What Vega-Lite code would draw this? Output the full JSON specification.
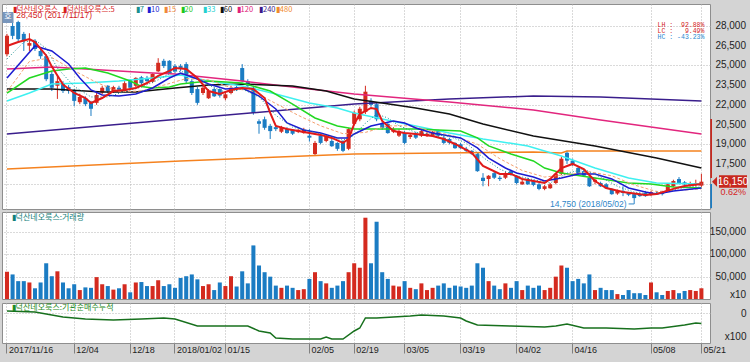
{
  "$schema": "https://vega.github.io/schema/vega-lite/v6.json",
  "background": "#d4d4d4",
  "padding": {"left": 1, "top": 3, "right": 4, "bottom": 12},
  "spacing": 1,
  "config": {
    "view": {"fill": "#ffffff", "stroke": "#8e8e8e", "strokeWidth": 1},
    "axis": {"labelFont": "Liberation Sans", "labelFontSize": 10, "labelColor": "#1e1e1e", "gridColor": "#b4b4b4", "gridDash": [1, 2], "gridWidth": 1},
    "text": {"font": "Liberation Sans"}
  },
  "resolve": {"scale": {"x": "shared"}, "axis": {"x": "independent"}},
  "datasets": {
    "ohlc": [
      {"d":"2017/11/16","o":25850,"h":27400,"l":25700,"c":27250,"v":61000},
      {"d":"2017/11/17","o":28000,"h":28450,"l":27000,"c":27250,"v":55000},
      {"d":"2017/11/20","o":28300,"h":28400,"l":26850,"c":27000,"v":40000},
      {"d":"2017/11/21","o":27400,"h":27550,"l":26100,"c":26850,"v":40000},
      {"d":"2017/11/22","o":26500,"h":27450,"l":26100,"c":26700,"v":37000},
      {"d":"2017/11/23","o":26850,"h":27000,"l":26100,"c":26250,"v":24000},
      {"d":"2017/11/24","o":26100,"h":26250,"l":25500,"c":25700,"v":37000},
      {"d":"2017/11/27","o":25700,"h":25850,"l":23800,"c":23950,"v":80000},
      {"d":"2017/11/28","o":24350,"h":24550,"l":23050,"c":23300,"v":51000},
      {"d":"2017/11/29","o":23450,"h":24200,"l":22450,"c":23800,"v":62000},
      {"d":"2017/11/30","o":23600,"h":23800,"l":22900,"c":23050,"v":37000},
      {"d":"2017/12/01","o":23350,"h":23500,"l":22850,"c":23050,"v":24000},
      {"d":"2017/12/04","o":23050,"h":23200,"l":21900,"c":22300,"v":33000},
      {"d":"2017/12/05","o":22200,"h":22850,"l":22050,"c":22600,"v":20000},
      {"d":"2017/12/06","o":22500,"h":22650,"l":21900,"c":22050,"v":26000},
      {"d":"2017/12/07","o":22150,"h":22300,"l":21150,"c":21700,"v":25000},
      {"d":"2017/12/08","o":22150,"h":22900,"l":22000,"c":22750,"v":49000},
      {"d":"2017/12/11","o":22950,"h":23450,"l":22800,"c":23300,"v":33000},
      {"d":"2017/12/12","o":23450,"h":23500,"l":22900,"c":23050,"v":29000},
      {"d":"2017/12/13","o":23050,"h":23450,"l":22900,"c":23350,"v":21000},
      {"d":"2017/12/14","o":23300,"h":23450,"l":22950,"c":23150,"v":24000},
      {"d":"2017/12/15","o":23050,"h":23800,"l":22950,"c":23650,"v":33000},
      {"d":"2017/12/18","o":23900,"h":23950,"l":23200,"c":23300,"v":15000},
      {"d":"2017/12/19","o":23450,"h":24100,"l":23350,"c":24050,"v":37000},
      {"d":"2017/12/20","o":24100,"h":24200,"l":23500,"c":23650,"v":38000},
      {"d":"2017/12/21","o":24050,"h":24200,"l":23750,"c":23800,"v":29000},
      {"d":"2017/12/22","o":23750,"h":24400,"l":23650,"c":24350,"v":29000},
      {"d":"2017/12/26","o":24550,"h":25550,"l":24500,"c":25200,"v":42000},
      {"d":"2017/12/27","o":25350,"h":25500,"l":24800,"c":24950,"v":29000},
      {"d":"2017/12/28","o":25350,"h":25400,"l":24350,"c":24400,"v":33000},
      {"d":"2018/01/02","o":24950,"h":25100,"l":24400,"c":24550,"v":25000},
      {"d":"2018/01/03","o":24950,"h":25100,"l":24550,"c":24750,"v":47000},
      {"d":"2018/01/04","o":25100,"h":25250,"l":23650,"c":23800,"v":51000},
      {"d":"2018/01/05","o":23800,"h":23950,"l":22750,"c":22900,"v":55000},
      {"d":"2018/01/08","o":23200,"h":23350,"l":22000,"c":22150,"v":44000},
      {"d":"2018/01/09","o":22900,"h":23450,"l":22750,"c":23300,"v":29000},
      {"d":"2018/01/10","o":22500,"h":23200,"l":22450,"c":23050,"v":33000},
      {"d":"2018/01/11","o":23200,"h":23300,"l":22600,"c":22650,"v":20000},
      {"d":"2018/01/12","o":23200,"h":23250,"l":22550,"c":22700,"v":37000},
      {"d":"2018/01/15","o":22500,"h":22950,"l":22350,"c":22800,"v":29000},
      {"d":"2018/01/16","o":22900,"h":23450,"l":22800,"c":23300,"v":51000},
      {"d":"2018/01/17","o":23350,"h":23500,"l":23050,"c":23200,"v":28000},
      {"d":"2018/01/18","o":24800,"h":25100,"l":23750,"c":23800,"v":62000},
      {"d":"2018/01/19","o":23800,"h":23950,"l":23300,"c":23450,"v":35000},
      {"d":"2018/01/22","o":23300,"h":23450,"l":21250,"c":21400,"v":120000},
      {"d":"2018/01/23","o":20750,"h":20900,"l":19800,"c":20550,"v":75000},
      {"d":"2018/01/24","o":20900,"h":21100,"l":20100,"c":20250,"v":60000},
      {"d":"2018/01/25","o":20400,"h":20550,"l":19400,"c":20000,"v":50000},
      {"d":"2018/01/26","o":20300,"h":20450,"l":20000,"c":20150,"v":30000},
      {"d":"2018/01/29","o":19950,"h":20400,"l":19850,"c":20250,"v":25000},
      {"d":"2018/01/30","o":20150,"h":20300,"l":19800,"c":19850,"v":30000},
      {"d":"2018/01/31","o":20100,"h":20150,"l":19700,"c":19800,"v":25000},
      {"d":"2018/02/01","o":19950,"h":20150,"l":19850,"c":20100,"v":20000},
      {"d":"2018/02/02","o":19850,"h":20250,"l":19800,"c":20100,"v":22000},
      {"d":"2018/02/05","o":19650,"h":20150,"l":19200,"c":19500,"v":45000},
      {"d":"2018/02/06","o":18250,"h":19250,"l":18100,"c":19100,"v":60000},
      {"d":"2018/02/07","o":19650,"h":19800,"l":19000,"c":19100,"v":40000},
      {"d":"2018/02/08","o":19250,"h":19700,"l":19150,"c":19550,"v":35000},
      {"d":"2018/02/09","o":19250,"h":19400,"l":18800,"c":18850,"v":25000},
      {"d":"2018/02/12","o":19100,"h":19150,"l":18500,"c":18650,"v":30000},
      {"d":"2018/02/13","o":19250,"h":19300,"l":18400,"c":18500,"v":40000},
      {"d":"2018/02/14","o":18650,"h":20250,"l":18550,"c":20150,"v":60000},
      {"d":"2018/02/19","o":20550,"h":21550,"l":20450,"c":21400,"v":80000},
      {"d":"2018/02/20","o":20900,"h":21850,"l":20750,"c":21700,"v":70000},
      {"d":"2018/02/21","o":21450,"h":23450,"l":21300,"c":23000,"v":182000},
      {"d":"2018/02/22","o":22300,"h":22500,"l":21850,"c":22000,"v":80000},
      {"d":"2018/02/23","o":22050,"h":22200,"l":20750,"c":20900,"v":173000},
      {"d":"2018/02/26","o":20550,"h":20700,"l":20100,"c":20250,"v":60000},
      {"d":"2018/02/27","o":20550,"h":20700,"l":19800,"c":19850,"v":45000},
      {"d":"2018/02/28","o":19950,"h":20300,"l":19850,"c":20150,"v":30000},
      {"d":"2018/03/02","o":19650,"h":20150,"l":19550,"c":20000,"v":28000},
      {"d":"2018/03/05","o":19850,"h":20000,"l":19000,"c":19100,"v":40000},
      {"d":"2018/03/06","o":19550,"h":19850,"l":19400,"c":19700,"v":25000},
      {"d":"2018/03/07","o":19800,"h":19950,"l":19400,"c":19500,"v":22000},
      {"d":"2018/03/08","o":19650,"h":20100,"l":19550,"c":20000,"v":35000},
      {"d":"2018/03/09","o":19700,"h":19950,"l":19550,"c":19800,"v":20000},
      {"d":"2018/03/12","o":19650,"h":20000,"l":19550,"c":19950,"v":25000},
      {"d":"2018/03/13","o":20000,"h":20100,"l":19550,"c":19650,"v":30000},
      {"d":"2018/03/14","o":19500,"h":19650,"l":19000,"c":19100,"v":35000},
      {"d":"2018/03/15","o":19400,"h":19500,"l":19000,"c":19100,"v":25000},
      {"d":"2018/03/16","o":19100,"h":19150,"l":18650,"c":18700,"v":30000},
      {"d":"2018/03/19","o":19000,"h":19100,"l":18650,"c":18700,"v":28000},
      {"d":"2018/03/20","o":18650,"h":18800,"l":18400,"c":18500,"v":25000},
      {"d":"2018/03/21","o":18500,"h":18550,"l":18200,"c":18250,"v":30000},
      {"d":"2018/03/22","o":18250,"h":18350,"l":16900,"c":16950,"v":80000},
      {"d":"2018/03/23","o":16450,"h":16800,"l":15800,"c":16200,"v":70000},
      {"d":"2018/03/26","o":16350,"h":16650,"l":15800,"c":16600,"v":40000},
      {"d":"2018/03/27","o":16800,"h":16900,"l":16350,"c":16450,"v":30000},
      {"d":"2018/03/28","o":16450,"h":16600,"l":16200,"c":16350,"v":22000},
      {"d":"2018/03/29","o":16450,"h":16900,"l":16350,"c":16800,"v":35000},
      {"d":"2018/03/30","o":16950,"h":17050,"l":16600,"c":16750,"v":25000},
      {"d":"2018/04/02","o":16600,"h":16650,"l":15950,"c":16050,"v":40000},
      {"d":"2018/04/03","o":15950,"h":16300,"l":15900,"c":16150,"v":20000},
      {"d":"2018/04/04","o":16350,"h":16450,"l":15900,"c":15950,"v":30000},
      {"d":"2018/04/05","o":16200,"h":16300,"l":15800,"c":15900,"v":25000},
      {"d":"2018/04/06","o":15950,"h":16050,"l":15500,"c":15600,"v":30000},
      {"d":"2018/04/09","o":15600,"h":15900,"l":15500,"c":15800,"v":20000},
      {"d":"2018/04/10","o":15650,"h":16050,"l":15600,"c":15950,"v":25000},
      {"d":"2018/04/11","o":16050,"h":16800,"l":15950,"c":16750,"v":50000},
      {"d":"2018/04/12","o":16750,"h":18050,"l":16650,"c":17900,"v":75000},
      {"d":"2018/04/13","o":18350,"h":18500,"l":17500,"c":17750,"v":70000},
      {"d":"2018/04/16","o":17750,"h":17900,"l":17350,"c":17500,"v":40000},
      {"d":"2018/04/17","o":17200,"h":17350,"l":16650,"c":16750,"v":45000},
      {"d":"2018/04/18","o":16950,"h":17050,"l":16500,"c":16600,"v":35000},
      {"d":"2018/04/19","o":16450,"h":16600,"l":15750,"c":15800,"v":55000},
      {"d":"2018/04/20","o":16150,"h":16450,"l":15950,"c":16300,"v":20000},
      {"d":"2018/04/23","o":16050,"h":16150,"l":15750,"c":15800,"v":25000},
      {"d":"2018/04/24","o":15950,"h":16050,"l":15600,"c":15650,"v":20000},
      {"d":"2018/04/25","o":15600,"h":15650,"l":15150,"c":15200,"v":20000},
      {"d":"2018/04/26","o":15250,"h":15550,"l":15150,"c":15450,"v":11000},
      {"d":"2018/04/27","o":15450,"h":15800,"l":15050,"c":15300,"v":9000},
      {"d":"2018/04/30","o":15300,"h":15350,"l":15050,"c":15150,"v":20000},
      {"d":"2018/05/02","o":15200,"h":15300,"l":14750,"c":14900,"v":13000},
      {"d":"2018/05/03","o":15200,"h":15300,"l":15000,"c":15050,"v":13000},
      {"d":"2018/05/04","o":15300,"h":15450,"l":15000,"c":15050,"v":9000},
      {"d":"2018/05/08","o":15150,"h":15450,"l":15050,"c":15350,"v":37000},
      {"d":"2018/05/09","o":15300,"h":15450,"l":15150,"c":15200,"v":15000},
      {"d":"2018/05/10","o":15300,"h":15400,"l":15100,"c":15200,"v":9000},
      {"d":"2018/05/11","o":15450,"h":16050,"l":15350,"c":15950,"v":18000},
      {"d":"2018/05/14","o":15800,"h":16300,"l":15750,"c":16200,"v":20000},
      {"d":"2018/05/15","o":16350,"h":16500,"l":15950,"c":16050,"v":13000},
      {"d":"2018/05/16","o":16100,"h":16200,"l":15850,"c":15950,"v":18000},
      {"d":"2018/05/17","o":15850,"h":16150,"l":15800,"c":16000,"v":20000},
      {"d":"2018/05/18","o":15900,"h":16300,"l":15800,"c":16050,"v":18000},
      {"d":"2018/05/21","o":15850,"h":16750,"l":15750,"c":16150,"v":24000}
    ],
    "m5": [
      {"d":"2017/11/16","p":26480},{"d":"2017/11/20","p":26780},{"d":"2017/11/22","p":27010},{"d":"2017/11/23","p":26780},
      {"d":"2017/11/27","p":25760},{"d":"2017/11/28","p":24910},{"d":"2017/11/30","p":23550},{"d":"2017/12/04","p":22900},
      {"d":"2017/12/06","p":22520},{"d":"2017/12/07","p":22140},{"d":"2017/12/11","p":22520},{"d":"2017/12/13","p":23050},
      {"d":"2017/12/15","p":23130},{"d":"2017/12/19","p":23280},{"d":"2017/12/21","p":23660},{"d":"2017/12/26","p":24200},
      {"d":"2017/12/28","p":24580},{"d":"2018/01/02","p":24800},{"d":"2018/01/04","p":24730},{"d":"2018/01/08","p":24040},
      {"d":"2018/01/10","p":23050},{"d":"2018/01/12","p":22830},{"d":"2018/01/16","p":23130},{"d":"2018/01/18","p":23280},
      {"d":"2018/01/22","p":23210},{"d":"2018/01/24","p":22520},{"d":"2018/01/25","p":21380},{"d":"2018/01/26","p":20390},
      {"d":"2018/01/30","p":20160},{"d":"2018/02/01","p":20010},{"d":"2018/02/05","p":19860},{"d":"2018/02/07","p":19710},
      {"d":"2018/02/09","p":19480},{"d":"2018/02/13","p":19100},{"d":"2018/02/14","p":19400},{"d":"2018/02/19","p":20540},
      {"d":"2018/02/20","p":21300},{"d":"2018/02/22","p":21760},{"d":"2018/02/23","p":21680},{"d":"2018/02/26","p":20770},
      {"d":"2018/02/28","p":20010},{"d":"2018/03/05","p":19860},{"d":"2018/03/07","p":19780},{"d":"2018/03/12","p":19630},
      {"d":"2018/03/14","p":19400},{"d":"2018/03/16","p":19020},{"d":"2018/03/21","p":18340},{"d":"2018/03/23","p":17350},
      {"d":"2018/03/28","p":16740},{"d":"2018/03/30","p":16740},{"d":"2018/04/03","p":16360},{"d":"2018/04/09","p":16050},
      {"d":"2018/04/10","p":16360},{"d":"2018/04/12","p":17190},{"d":"2018/04/16","p":17500},{"d":"2018/04/18","p":17100},
      {"d":"2018/04/20","p":16200},{"d":"2018/04/24","p":15670},{"d":"2018/04/27","p":15370},{"d":"2018/05/04","p":15140},
      {"d":"2018/05/09","p":15220},{"d":"2018/05/14","p":15600},{"d":"2018/05/16","p":15820},{"d":"2018/05/21","p":15980}
    ],
    "m7": [
      {"d":"2017/11/16","p":25490},{"d":"2017/11/21","p":26780},{"d":"2017/11/23","p":26930},{"d":"2017/11/27","p":26300},
      {"d":"2017/11/29","p":24800},{"d":"2017/12/04","p":23400},{"d":"2017/12/07","p":22600},{"d":"2017/12/12","p":22600},
      {"d":"2017/12/15","p":23000},{"d":"2017/12/20","p":23350},{"d":"2017/12/26","p":23900},{"d":"2018/01/02","p":24600},
      {"d":"2018/01/05","p":24400},{"d":"2018/01/10","p":23500},{"d":"2018/01/15","p":22950},{"d":"2018/01/18","p":23200},
      {"d":"2018/01/23","p":22600},{"d":"2018/01/26","p":21200},{"d":"2018/01/31","p":20300},{"d":"2018/02/05","p":20000},
      {"d":"2018/02/08","p":19700},{"d":"2018/02/13","p":19300},{"d":"2018/02/19","p":19700},{"d":"2018/02/21","p":20600},
      {"d":"2018/02/23","p":21300},{"d":"2018/02/27","p":21000},{"d":"2018/03/02","p":20400},{"d":"2018/03/07","p":19900},
      {"d":"2018/03/12","p":19750},{"d":"2018/03/15","p":19600},{"d":"2018/03/20","p":19100},{"d":"2018/03/23","p":18000},
      {"d":"2018/03/28","p":17100},{"d":"2018/04/02","p":16600},{"d":"2018/04/05","p":16300},{"d":"2018/04/10","p":16050},
      {"d":"2018/04/13","p":16800},{"d":"2018/04/18","p":17100},{"d":"2018/04/23","p":16500},{"d":"2018/04/26","p":15800},
      {"d":"2018/05/02","p":15350},{"d":"2018/05/08","p":15200},{"d":"2018/05/11","p":15450},{"d":"2018/05/16","p":15700},
      {"d":"2018/05/21","p":15850}
    ],
    "m10": [
      {"d":"2017/11/16","p":24040},{"d":"2017/11/23","p":26480},{"d":"2017/11/28","p":26100},{"d":"2017/12/01","p":25110},
      {"d":"2017/12/05","p":24040},{"d":"2017/12/07","p":23130},{"d":"2017/12/11","p":22750},{"d":"2017/12/14","p":22670},
      {"d":"2017/12/19","p":22830},{"d":"2017/12/22","p":23280},{"d":"2017/12/28","p":24040},{"d":"2018/01/03","p":24420},
      {"d":"2018/01/08","p":23970},{"d":"2018/01/10","p":23590},{"d":"2018/01/15","p":23210},{"d":"2018/01/18","p":23280},
      {"d":"2018/01/23","p":22670},{"d":"2018/01/26","p":21680},{"d":"2018/01/30","p":20620},{"d":"2018/02/02","p":20090},
      {"d":"2018/02/07","p":19860},{"d":"2018/02/12","p":19480},{"d":"2018/02/14","p":19480},{"d":"2018/02/19","p":19780},
      {"d":"2018/02/22","p":20390},{"d":"2018/02/28","p":20770},{"d":"2018/03/05","p":20620},{"d":"2018/03/07","p":20240},
      {"d":"2018/03/12","p":19860},{"d":"2018/03/19","p":19480},{"d":"2018/03/22","p":18720},{"d":"2018/03/26","p":17950},
      {"d":"2018/03/29","p":17190},{"d":"2018/04/02","p":16810},{"d":"2018/04/05","p":16510},{"d":"2018/04/09","p":16200},
      {"d":"2018/04/12","p":16430},{"d":"2018/04/17","p":16740},{"d":"2018/04/20","p":16740},{"d":"2018/04/25","p":16360},
      {"d":"2018/04/30","p":15670},{"d":"2018/05/04","p":15370},{"d":"2018/05/09","p":15220},{"d":"2018/05/14","p":15440},
      {"d":"2018/05/21","p":15670}
    ],
    "m15": [
      {"d":"2017/11/16","p":23000},{"d":"2017/11/22","p":25300},{"d":"2017/11/28","p":25600},{"d":"2017/12/04","p":24600},
      {"d":"2017/12/08","p":23700},{"d":"2017/12/14","p":23000},{"d":"2017/12/20","p":23050},{"d":"2017/12/27","p":23500},
      {"d":"2018/01/04","p":24000},{"d":"2018/01/10","p":23900},{"d":"2018/01/16","p":23300},{"d":"2018/01/22","p":23000},
      {"d":"2018/01/26","p":22100},{"d":"2018/02/01","p":21200},{"d":"2018/02/07","p":20400},{"d":"2018/02/13","p":19800},
      {"d":"2018/02/21","p":19900},{"d":"2018/02/27","p":20400},{"d":"2018/03/06","p":20400},{"d":"2018/03/12","p":20000},
      {"d":"2018/03/16","p":19600},{"d":"2018/03/22","p":19000},{"d":"2018/03/28","p":17900},{"d":"2018/04/03","p":17000},
      {"d":"2018/04/09","p":16500},{"d":"2018/04/13","p":16700},{"d":"2018/04/19","p":16900},{"d":"2018/04/25","p":16600},
      {"d":"2018/05/02","p":15900},{"d":"2018/05/09","p":15400},{"d":"2018/05/15","p":15500},{"d":"2018/05/21","p":15600}
    ],
    "m20": [
      {"d":"2017/11/16","p":22900},{"d":"2017/11/22","p":24040},{"d":"2017/11/28","p":24580},{"d":"2017/12/01","p":24730},
      {"d":"2017/12/06","p":24800},{"d":"2017/12/12","p":24420},{"d":"2017/12/18","p":23810},{"d":"2017/12/20","p":23400},
      {"d":"2017/12/22","p":23280},{"d":"2017/12/28","p":23360},{"d":"2018/01/03","p":23590},{"d":"2018/01/10","p":23810},
      {"d":"2018/01/18","p":23660},{"d":"2018/01/25","p":23050},{"d":"2018/01/31","p":22060},{"d":"2018/02/06","p":21000},
      {"d":"2018/02/12","p":20390},{"d":"2018/02/19","p":20160},{"d":"2018/02/26","p":20160},{"d":"2018/03/07","p":20160},
      {"d":"2018/03/19","p":20010},{"d":"2018/03/22","p":19480},{"d":"2018/03/26","p":18870},{"d":"2018/03/30","p":18260},
      {"d":"2018/04/05","p":17730},{"d":"2018/04/09","p":17190},{"d":"2018/04/12","p":16810},{"d":"2018/04/20","p":16430},
      {"d":"2018/04/30","p":16050},{"d":"2018/05/08","p":15980},{"d":"2018/05/14","p":15750},{"d":"2018/05/21","p":15670}
    ],
    "m33": [
      {"d":"2017/11/16","p":22290},{"d":"2017/11/22","p":22900},{"d":"2017/11/28","p":23590},{"d":"2017/12/06","p":23660},
      {"d":"2017/12/14","p":23810},{"d":"2017/12/22","p":24040},{"d":"2018/01/03","p":24270},{"d":"2018/01/10","p":23810},
      {"d":"2018/01/18","p":23430},{"d":"2018/01/26","p":22830},{"d":"2018/02/05","p":22140},{"d":"2018/02/12","p":21760},
      {"d":"2018/02/19","p":21380},{"d":"2018/02/26","p":20920},{"d":"2018/03/07","p":20390},{"d":"2018/03/15","p":19860},
      {"d":"2018/03/23","p":19400},{"d":"2018/04/04","p":18870},{"d":"2018/04/12","p":18110},{"d":"2018/04/20","p":17190},
      {"d":"2018/04/30","p":16430},{"d":"2018/05/09","p":16050},{"d":"2018/05/21","p":15980}
    ],
    "m60": [
      {"d":"2017/11/16","p":23210},{"d":"2017/11/28","p":23210},{"d":"2017/12/11","p":22980},{"d":"2017/12/19","p":22980},
      {"d":"2018/01/02","p":23280},{"d":"2018/01/10","p":23510},{"d":"2018/01/18","p":23590},{"d":"2018/01/31","p":23430},
      {"d":"2018/02/08","p":23050},{"d":"2018/02/19","p":22450},{"d":"2018/02/26","p":22140},{"d":"2018/03/07","p":21760},
      {"d":"2018/03/15","p":21300},{"d":"2018/03/23","p":20540},{"d":"2018/04/05","p":19630},{"d":"2018/04/20","p":18870},
      {"d":"2018/05/09","p":17950},{"d":"2018/05/21","p":17190}
    ],
    "m120": [
      {"d":"2017/11/16","p":24730},{"d":"2017/11/28","p":24880},{"d":"2017/12/11","p":24650},{"d":"2017/12/22","p":24420},
      {"d":"2018/01/02","p":24350},{"d":"2018/01/18","p":23810},{"d":"2018/02/05","p":23210},{"d":"2018/02/19","p":22830},
      {"d":"2018/03/15","p":22220},{"d":"2018/04/05","p":21610},{"d":"2018/04/23","p":20850},{"d":"2018/05/21","p":19780}
    ],
    "m240": [
      {"d":"2017/11/16","p":19780},{"d":"2018/01/03","p":20920},{"d":"2018/02/19","p":22060},{"d":"2018/03/15","p":22450},
      {"d":"2018/04/05","p":22670},{"d":"2018/04/23","p":22600},{"d":"2018/05/21","p":22290}
    ],
    "m480": [
      {"d":"2017/11/16","p":17120},{"d":"2018/01/03","p":17730},{"d":"2018/02/19","p":18260},{"d":"2018/04/05","p":18410},
      {"d":"2018/04/12","p":18340},{"d":"2018/04/13","p":18490},{"d":"2018/05/21","p":18490}
    ],
    "inst": [
      {"d":"2017/11/16","n":2000},{"d":"2017/11/23","n":1000},{"d":"2017/11/27","n":-1000},{"d":"2017/11/30","n":-4000},
      {"d":"2017/12/06","n":-6000},{"d":"2017/12/13","n":-7000},{"d":"2017/12/20","n":-6000},{"d":"2017/12/27","n":-5000},
      {"d":"2018/01/02","n":-6000},{"d":"2018/01/08","n":-13000},{"d":"2018/01/10","n":-13000},{"d":"2018/01/17","n":-13000},
      {"d":"2018/01/19","n":-13000},{"d":"2018/01/23","n":-18000},{"d":"2018/01/25","n":-20000},{"d":"2018/01/26","n":-25000},
      {"d":"2018/01/31","n":-26000},{"d":"2018/02/07","n":-26000},{"d":"2018/02/08","n":-24000},{"d":"2018/02/09","n":-26000},
      {"d":"2018/02/13","n":-26000},{"d":"2018/02/19","n":-18000},{"d":"2018/02/20","n":-15000},{"d":"2018/02/21","n":-5000},
      {"d":"2018/02/23","n":-5000},{"d":"2018/03/06","n":-3000},{"d":"2018/03/08","n":-2000},{"d":"2018/03/14","n":-3000},
      {"d":"2018/03/19","n":-5000},{"d":"2018/03/20","n":-8000},{"d":"2018/03/22","n":-12000},{"d":"2018/03/30","n":-13000},
      {"d":"2018/04/09","n":-14000},{"d":"2018/04/11","n":-13000},{"d":"2018/04/13","n":-11000},{"d":"2018/04/18","n":-15000},
      {"d":"2018/04/24","n":-15000},{"d":"2018/05/02","n":-16000},{"d":"2018/05/08","n":-15000},{"d":"2018/05/10","n":-15000},
      {"d":"2018/05/16","n":-12000},{"d":"2018/05/18","n":-10000},{"d":"2018/05/21","n":-10500}
    ]
  },
  "vconcat": [
    {
      "width": 708,
      "height": 205,
      "layer": [
        {
          "data": {"name": "ohlc"},
          "mark": {"type": "rule", "strokeWidth": 1},
          "encoding": {
            "x": {"field": "d", "type": "ordinal", "title": null,
              "scale": {"type": "band", "paddingInner": 0, "paddingOuter": 0.714, "align": 0.275},
              "axis": {"values": ["2017/11/16","2017/12/04","2017/12/18","2018/01/02","2018/01/15","2018/02/05","2018/02/19","2018/03/05","2018/03/19","2018/04/02","2018/04/16","2018/05/08","2018/05/21"],
                "labels": false, "ticks": false, "domain": false, "grid": true}},
            "y": {"field": "l", "type": "quantitative", "title": null,
              "scale": {"domain": [14070, 29675], "zero": false, "nice": false},
              "axis": {"orient": "right", "values": [16000,17500,19000,20500,22000,23500,25000,26500,28000],
                "labels": false, "ticks": false, "domain": false, "grid": true}},
            "y2": {"field": "h"},
            "color": {"condition": {"test": "datum.c >= datum.o", "value": "#d42a1f"}, "value": "#1b7cc3"}
          }
        },
        {
          "data": {"name": "ohlc"},
          "mark": {"type": "bar", "width": {"band": 0.72}},
          "encoding": {
            "x": {"field": "d", "type": "ordinal", "title": null},
            "y": {"field": "o", "type": "quantitative", "title": null},
            "y2": {"field": "c"},
            "color": {"condition": {"test": "datum.c >= datum.o", "value": "#d42a1f"}, "value": "#1b7cc3"}
          }
        },
        {"data": {"name": "m480"}, "mark": {"type": "line", "color": "#f5821f", "strokeWidth": 1.5},
          "encoding": {"x": {"field": "d", "type": "ordinal", "title": null}, "y": {"field": "p", "type": "quantitative", "title": null}}},
        {"data": {"name": "m240"}, "mark": {"type": "line", "color": "#3a1e8c", "strokeWidth": 1.5},
          "encoding": {"x": {"field": "d", "type": "ordinal", "title": null}, "y": {"field": "p", "type": "quantitative", "title": null}}},
        {"data": {"name": "m120"}, "mark": {"type": "line", "color": "#e2267e", "strokeWidth": 1.5},
          "encoding": {"x": {"field": "d", "type": "ordinal", "title": null}, "y": {"field": "p", "type": "quantitative", "title": null}}},
        {"data": {"name": "m60"}, "mark": {"type": "line", "color": "#111111", "strokeWidth": 1.5},
          "encoding": {"x": {"field": "d", "type": "ordinal", "title": null}, "y": {"field": "p", "type": "quantitative", "title": null}}},
        {"data": {"name": "m33"}, "mark": {"type": "line", "color": "#3ef0f0", "strokeWidth": 1.5},
          "encoding": {"x": {"field": "d", "type": "ordinal", "title": null}, "y": {"field": "p", "type": "quantitative", "title": null}}},
        {"data": {"name": "m20"}, "mark": {"type": "line", "color": "#22d822", "strokeWidth": 1.5},
          "encoding": {"x": {"field": "d", "type": "ordinal", "title": null}, "y": {"field": "p", "type": "quantitative", "title": null}}},
        {"data": {"name": "m15"}, "mark": {"type": "line", "color": "#f4a070", "strokeWidth": 1, "strokeDash": [3, 2]},
          "encoding": {"x": {"field": "d", "type": "ordinal", "title": null}, "y": {"field": "p", "type": "quantitative", "title": null}}},
        {"data": {"name": "m10"}, "mark": {"type": "line", "color": "#1c1cd0", "strokeWidth": 1.5},
          "encoding": {"x": {"field": "d", "type": "ordinal", "title": null}, "y": {"field": "p", "type": "quantitative", "title": null}}},
        {"data": {"name": "m7"}, "mark": {"type": "line", "color": "#1a9090", "strokeWidth": 1, "strokeDash": [1, 2]},
          "encoding": {"x": {"field": "d", "type": "ordinal", "title": null}, "y": {"field": "p", "type": "quantitative", "title": null}}},
        {"data": {"name": "m5"}, "mark": {"type": "line", "color": "#e01a1a", "strokeWidth": 2},
          "encoding": {"x": {"field": "d", "type": "ordinal", "title": null}, "y": {"field": "p", "type": "quantitative", "title": null}}},
        {
          "data": {"values": [
            {"d": "2018/05/21", "p": 28000, "t": "28,000"},
            {"d": "2018/05/21", "p": 26500, "t": "26,500"},
            {"d": "2018/05/21", "p": 25000, "t": "25,000"},
            {"d": "2018/05/21", "p": 23500, "t": "23,500"},
            {"d": "2018/05/21", "p": 22000, "t": "22,000"},
            {"d": "2018/05/21", "p": 20500, "t": "20,500"},
            {"d": "2018/05/21", "p": 19000, "t": "19,000"},
            {"d": "2018/05/21", "p": 17500, "t": "17,500"}
          ]},
          "mark": {"type": "text", "align": "right", "baseline": "middle", "fontSize": 10, "color": "#1e1e1e", "dx": 44.6},
          "encoding": {"x": {"field": "d", "type": "ordinal", "title": null}, "y": {"field": "p", "type": "quantitative", "title": null}, "text": {"field": "t"}}
        },
        {
          "data": {"values": [
            {"d": "2017/11/17", "p": 29256, "t": "▮덕산네오룩스", "k": "s"},
            {"d": "2017/11/30", "p": 29256, "t": "▮덕산네오룩스:5", "k": "5"},
            {"d": "2017/12/19", "p": 29256, "t": "▮7", "k": "7"},
            {"d": "2017/12/21", "p": 29256, "t": "▮10", "k": "10"},
            {"d": "2017/12/27", "p": 29256, "t": "▮15", "k": "15"},
            {"d": "2018/01/03", "p": 29256, "t": "▮20", "k": "20"},
            {"d": "2018/01/09", "p": 29256, "t": "▮33", "k": "33"},
            {"d": "2018/01/12", "p": 29256, "t": "▮60", "k": "60"},
            {"d": "2018/01/17", "p": 29256, "t": "▮120", "k": "120"},
            {"d": "2018/01/23", "p": 29256, "t": "▮240", "k": "240"},
            {"d": "2018/01/26", "p": 29256, "t": "▮480", "k": "480"}
          ]},
          "mark": {"type": "text", "align": "left", "baseline": "middle", "font": "Noto Sans CJK KR", "fontSize": 7.5},
          "encoding": {
            "x": {"field": "d", "type": "ordinal", "title": null},
            "y": {"field": "p", "type": "quantitative", "title": null},
            "text": {"field": "t"},
            "color": {"field": "k", "type": "nominal", "legend": null,
              "scale": {"domain": ["s","5","7","10","15","20","33","60","120","240","480","lr","hb"],
                "range": ["#d81e1e","#d81e1e","#1a8f8f","#1e1ed2","#f0883c","#1ec81e","#22d0d0","#111111","#e0207a","#3c1a8a","#f08a2a","#d42424","#2a8ad0"]}}
          }
        },
        {
          "data": {"values": [
            {"d": "2018/05/21", "p": 28077, "t": "LH :\u00a0\u00a092.88%", "k": "lr"},
            {"d": "2018/05/21", "p": 27620, "t": "LC :\u00a0\u00a0\u00a09.49%", "k": "lr"},
            {"d": "2018/05/21", "p": 27164, "t": "HC : -43.23%", "k": "hb"}
          ]},
          "mark": {"type": "text", "align": "right", "baseline": "middle", "font": "Liberation Mono", "fontSize": 6.5, "dx": 3},
          "encoding": {
            "x": {"field": "d", "type": "ordinal", "title": null},
            "y": {"field": "p", "type": "quantitative", "title": null},
            "text": {"field": "t"},
            "color": {"field": "k", "type": "nominal", "legend": null}
          }
        },
        {
          "data": {"values": [{"d": "2017/11/20", "p": 28800, "t": "28,450 (2017/11/17)"}]},
          "mark": {"type": "text", "align": "left", "baseline": "middle", "fontSize": 8.5, "color": "#d42424", "dx": -2},
          "encoding": {"x": {"field": "d", "type": "ordinal", "title": null}, "y": {"field": "p", "type": "quantitative", "title": null}, "text": {"field": "t"}}
        },
        {
          "data": {"values": [{"d": "2017/11/16", "p": 28648}]},
          "mark": {"type": "point", "filled": true, "size": 4, "opacity": 1, "strokeWidth": 0, "color": "#7896bc",
            "shape": "M -4.5 -5.5 L 6.5 -5.5 L 6.5 5.5 L -4.5 5.5 Z"},
          "encoding": {"x": {"field": "d", "type": "ordinal", "title": null}, "y": {"field": "p", "type": "quantitative", "title": null}}
        },
        {
          "data": {"values": [{"d": "2017/11/16", "p": 28648, "t": "호"}]},
          "mark": {"type": "text", "align": "center", "baseline": "middle", "font": "Noto Sans CJK KR", "fontSize": 8, "color": "#ffffff", "dx": 1},
          "encoding": {"x": {"field": "d", "type": "ordinal", "title": null}, "y": {"field": "p", "type": "quantitative", "title": null}, "text": {"field": "t"}}
        },
        {
          "data": {"values": [{"d": "2018/04/30", "p": 14455, "t": "14,750 (2018/05/02)"}]},
          "mark": {"type": "text", "align": "right", "baseline": "middle", "fontSize": 8.5, "color": "#2f86c8", "dx": -2},
          "encoding": {"x": {"field": "d", "type": "ordinal", "title": null}, "y": {"field": "p", "type": "quantitative", "title": null}, "text": {"field": "t"}}
        },
        {
          "data": {"values": [{"a": "2018/04/30", "b": "2018/05/02", "p": 14455}]},
          "mark": {"type": "rule", "color": "#2f86c8", "strokeWidth": 1},
          "encoding": {"x": {"field": "a", "type": "ordinal", "title": null}, "x2": {"field": "b"}, "y": {"field": "p", "type": "quantitative", "title": null}}
        },
        {
          "data": {"values": [{"d": "2018/05/02", "p": 14455, "q": 14760}]},
          "mark": {"type": "rule", "color": "#2f86c8", "strokeWidth": 1},
          "encoding": {"x": {"field": "d", "type": "ordinal", "title": null}, "y": {"field": "p", "type": "quantitative", "title": null}, "y2": {"field": "q"}}
        },
        {
          "data": {"values": [{"d": "2018/05/21", "p": 16150}]},
          "mark": {"type": "point", "filled": true, "size": 4, "opacity": 1, "strokeWidth": 0, "color": "#c8281e",
            "shape": "M 10.6 0 L 15.6 -5 L 15.6 5 Z M 17.6 -6.5 L 45.6 -6.5 L 45.6 6 L 17.6 6 Z M 8.9 -62.7 L 10.6 -62.7 L 10.6 -3.7 L 8.9 -3.7 Z"},
          "encoding": {"x": {"field": "d", "type": "ordinal", "title": null}, "y": {"field": "p", "type": "quantitative", "title": null}}
        },
        {
          "data": {"values": [{"d": "2018/05/21", "p": 16150}]},
          "mark": {"type": "point", "filled": true, "size": 4, "opacity": 1, "strokeWidth": 0, "color": "#1b7cc3",
            "shape": "M 8.9 2.3 L 10.6 2.3 L 10.6 26.5 L 8.9 26.5 Z"},
          "encoding": {"x": {"field": "d", "type": "ordinal", "title": null}, "y": {"field": "p", "type": "quantitative", "title": null}}
        },
        {
          "data": {"values": [{"d": "2018/05/21", "p": 16150, "t": "16,150"}]},
          "mark": {"type": "text", "align": "center", "baseline": "middle", "fontSize": 10, "color": "#ffffff", "dx": 31.6},
          "encoding": {"x": {"field": "d", "type": "ordinal", "title": null}, "y": {"field": "p", "type": "quantitative", "title": null}, "text": {"field": "t"}}
        },
        {
          "data": {"values": [{"d": "2018/05/21", "p": 16150, "t": "0.62%"}]},
          "mark": {"type": "text", "align": "right", "baseline": "middle", "fontSize": 9, "color": "#d42424", "dx": 44.6, "dy": 10},
          "encoding": {"x": {"field": "d", "type": "ordinal", "title": null}, "y": {"field": "p", "type": "quantitative", "title": null}, "text": {"field": "t"}}
        }
      ]
    },
    {
      "width": 708,
      "height": 87,
      "layer": [
        {
          "data": {"name": "ohlc"},
          "mark": {"type": "bar", "width": {"band": 0.72}},
          "encoding": {
            "x": {"field": "d", "type": "ordinal", "title": null,
              "axis": {"values": ["2017/11/16","2017/12/04","2017/12/18","2018/01/02","2018/01/15","2018/02/05","2018/02/19","2018/03/05","2018/03/19","2018/04/02","2018/04/16","2018/05/08","2018/05/21"],
                "labels": false, "ticks": false, "domain": false, "grid": true}},
            "y": {"field": "v", "type": "quantitative", "title": null,
              "scale": {"domain": [0, 194800], "nice": false},
              "axis": {"orient": "right", "values": [50000, 100000, 150000],
                "labels": false, "ticks": false, "domain": false, "grid": true}},
            "color": {"condition": {"test": "datum.c >= datum.o", "value": "#d42a1f"}, "value": "#1b7cc3"}
          }
        },
        {
          "data": {"values": [
            {"d": "2018/05/21", "v": 150000, "t": "150,000"},
            {"d": "2018/05/21", "v": 100000, "t": "100,000"},
            {"d": "2018/05/21", "v": 50000, "t": "50,000"},
            {"d": "2018/05/21", "v": 10000, "t": "x10"}
          ]},
          "mark": {"type": "text", "align": "right", "baseline": "middle", "fontSize": 10, "color": "#1e1e1e", "dx": 44.6},
          "encoding": {"x": {"field": "d", "type": "ordinal", "title": null}, "y": {"field": "v", "type": "quantitative", "title": null}, "text": {"field": "t"}}
        },
        {
          "data": {"values": [{"d": "2017/11/17", "v": 181400, "t": "▮덕산네오룩스:거래량"}]},
          "mark": {"type": "text", "align": "left", "baseline": "middle", "font": "Noto Sans CJK KR", "fontSize": 8, "color": "#137f7a", "dx": -1},
          "encoding": {"x": {"field": "d", "type": "ordinal", "title": null}, "y": {"field": "v", "type": "quantitative", "title": null}, "text": {"field": "t"}}
        }
      ]
    },
    {
      "width": 708,
      "height": 40,
      "layer": [
        {
          "data": {"name": "inst"},
          "mark": {"type": "line", "color": "#17701d", "strokeWidth": 1.5},
          "encoding": {
            "x": {"field": "d", "type": "ordinal", "title": null,
              "axis": {"values": ["2017/11/16","2017/12/04","2017/12/18","2018/01/02","2018/01/15","2018/02/05","2018/02/19","2018/03/05","2018/03/19","2018/04/02","2018/04/16","2018/05/08","2018/05/21"],
                "labelExpr": "datum.value == '2017/11/16' || datum.value == '2018/01/02' ? datum.value : substring(datum.value, 5)",
                "labelAlign": "left", "labelBaseline": "top", "labelOffset": 2, "labelPadding": -8, "labelAngle": 0, "labelOverlap": false,
                "labelFontSize": 9, "ticks": true, "tickSize": 10, "tickColor": "#808080", "domain": false, "grid": true}},
            "y": {"field": "n", "type": "quantitative", "title": null,
              "scale": {"domain": [-30000, 10000], "nice": false, "zero": false},
              "axis": {"orient": "right", "values": [0, -23000], "labelOverlap": false,
                "labelExpr": "datum.value == 0 ? '0' : 'x100'",
                "labelAlign": "right", "labelBaseline": "middle", "labelPadding": 36, "ticks": false, "tickSize": 0, "domain": false, "grid": true,
                "gridOpacity": {"condition": {"test": "datum.value != 0", "value": 0}, "value": 1}}}
          }
        },
        {
          "data": {"values": [{"d": "2017/11/17", "n": 5000, "t": "▮덕산네오룩스:기관순매수누적"}]},
          "mark": {"type": "text", "align": "left", "baseline": "middle", "font": "Noto Sans CJK KR", "fontSize": 8, "color": "#1f8a25", "dx": -1},
          "encoding": {"x": {"field": "d", "type": "ordinal", "title": null}, "y": {"field": "n", "type": "quantitative", "title": null}, "text": {"field": "t"}}
        }
      ]
    }
  ]
}
